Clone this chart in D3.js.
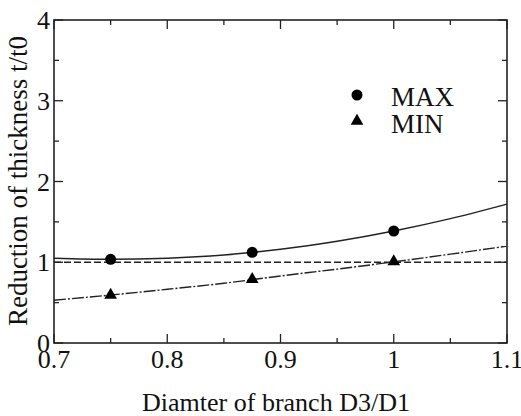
<!DOCTYPE html>
<html>
<head>
<meta charset="utf-8">
<script src="https://cdn.jsdelivr.net/npm/d3@7"></script>
<style>
  body { margin: 0; background: #fff; }
</style>
</head>
<body>
<svg id="chart" width="521" height="416"></svg>
<script>
// measured points
const ratios = [0.75, 0.875, 1.0];
const maxValues = [1.036, 1.123, 1.387];
const minValues = [0.594, 0.789, 1.007];

// fitted curves
const curveX = [0.7, 0.75, 0.8, 0.85, 0.9, 0.95, 1.0, 1.05, 1.1];
const maxCurve = [1.05, 1.036, 1.05, 1.09, 1.16, 1.26, 1.387, 1.54, 1.72];
const minCurve = [0.53, 0.594, 0.665, 0.74, 0.83, 0.915, 1.005, 1.1, 1.2];

const xTicks = [0.7, 0.8, 0.9, 1, 1.1];
const xMinor = [0.75, 0.85, 0.95, 1.05];
const yTicks = [0, 1, 2, 3, 4];
const yMinor = [0.5, 1.5, 2.5, 3.5];

const svg = d3.select('#chart')
    .attr('font-family', "'Liberation Serif', 'Times New Roman', Times, serif")
    .attr('fill', '#111');
const plotL = 54, plotR = 507, plotT = 20, plotB = 343;

const x = d3.scaleLinear().domain([0.7, 1.1]).range([plotL, plotR]);
const y = d3.scaleLinear().domain([0, 4]).range([plotB, plotT]);

const ink = '#222';

// frame
svg.append('rect')
    .attr('x', plotL).attr('y', plotT)
    .attr('width', plotR - plotL).attr('height', plotB - plotT)
    .attr('fill', 'none').attr('stroke', ink).attr('stroke-width', 1.6);

// ticks (all inward)
const ticks = svg.append('g').attr('stroke', ink).attr('stroke-width', 1.3);
xTicks.forEach(v => {
    ticks.append('line').attr('x1', x(v)).attr('x2', x(v)).attr('y1', plotB).attr('y2', plotB - 9);
    ticks.append('line').attr('x1', x(v)).attr('x2', x(v)).attr('y1', plotT).attr('y2', plotT + 9);
});
xMinor.forEach(v => {
    ticks.append('line').attr('x1', x(v)).attr('x2', x(v)).attr('y1', plotB).attr('y2', plotB - 5);
    ticks.append('line').attr('x1', x(v)).attr('x2', x(v)).attr('y1', plotT).attr('y2', plotT + 5);
});
yTicks.forEach(v => {
    ticks.append('line').attr('x1', plotL).attr('x2', plotL + 9).attr('y1', y(v)).attr('y2', y(v));
    ticks.append('line').attr('x1', plotR).attr('x2', plotR - 9).attr('y1', y(v)).attr('y2', y(v));
});
yMinor.forEach(v => {
    ticks.append('line').attr('x1', plotL).attr('x2', plotL + 5).attr('y1', y(v)).attr('y2', y(v));
    ticks.append('line').attr('x1', plotR).attr('x2', plotR - 5).attr('y1', y(v)).attr('y2', y(v));
});

// tick labels
svg.append('g').selectAll('text').data(xTicks).join('text')
    .attr('x', d => x(d)).attr('y', 368)
    .attr('text-anchor', 'middle').attr('font-size', 26)
    .text(d => d);
svg.append('g').selectAll('text').data(yTicks).join('text')
    .attr('x', plotL - 4).attr('y', d => y(d) + 9)
    .attr('text-anchor', 'end').attr('font-size', 26)
    .text(d => d);

// axis titles
svg.append('text')
    .attr('x', 276).attr('y', 411)
    .attr('text-anchor', 'middle').attr('font-size', 26)
    .text('Diamter of branch D3/D1');
svg.append('text')
    .attr('transform', 'translate(27,181) rotate(-90)')
    .attr('text-anchor', 'middle').attr('font-size', 27)
    .text('Reduction of thickness t/t0');

// reference line at 1
svg.append('line')
    .attr('x1', plotL).attr('x2', plotR).attr('y1', y(1)).attr('y2', y(1))
    .attr('stroke', ink).attr('stroke-width', 1.4)
    .attr('stroke-dasharray', '7,3');

const line = d3.line().x(d => x(d[0])).y(d => y(d[1])).curve(d3.curveMonotoneX);

svg.append('path')
    .datum(curveX.map((v, i) => [v, maxCurve[i]]))
    .attr('d', line).attr('fill', 'none')
    .attr('stroke', ink).attr('stroke-width', 1.5);

svg.append('path')
    .datum(curveX.map((v, i) => [v, minCurve[i]]))
    .attr('d', line).attr('fill', 'none')
    .attr('stroke', ink).attr('stroke-width', 1.4)
    .attr('stroke-dasharray', '12,2,2,2');

// markers
svg.append('g').selectAll('circle').data(ratios).join('circle')
    .attr('cx', d => x(d)).attr('cy', (d, i) => y(maxValues[i]))
    .attr('r', 5.5).attr('fill', '#000');

const tri = d3.symbol().type(d3.symbolTriangle).size(70);
svg.append('g').selectAll('path').data(ratios).join('path')
    .attr('d', tri)
    .attr('transform', (d, i) => `translate(${x(d)},${y(minValues[i])})`)
    .attr('fill', '#000');

// legend
svg.append('circle').attr('cx', 357).attr('cy', 95).attr('r', 5.5).attr('fill', '#000');
svg.append('path').attr('d', tri).attr('transform', 'translate(357,121)').attr('fill', '#000');
svg.append('text').attr('x', 391).attr('y', 106).attr('font-size', 27).text('MAX');
svg.append('text').attr('x', 391).attr('y', 133).attr('font-size', 27).text('MIN');
</script>
</body>
</html>
